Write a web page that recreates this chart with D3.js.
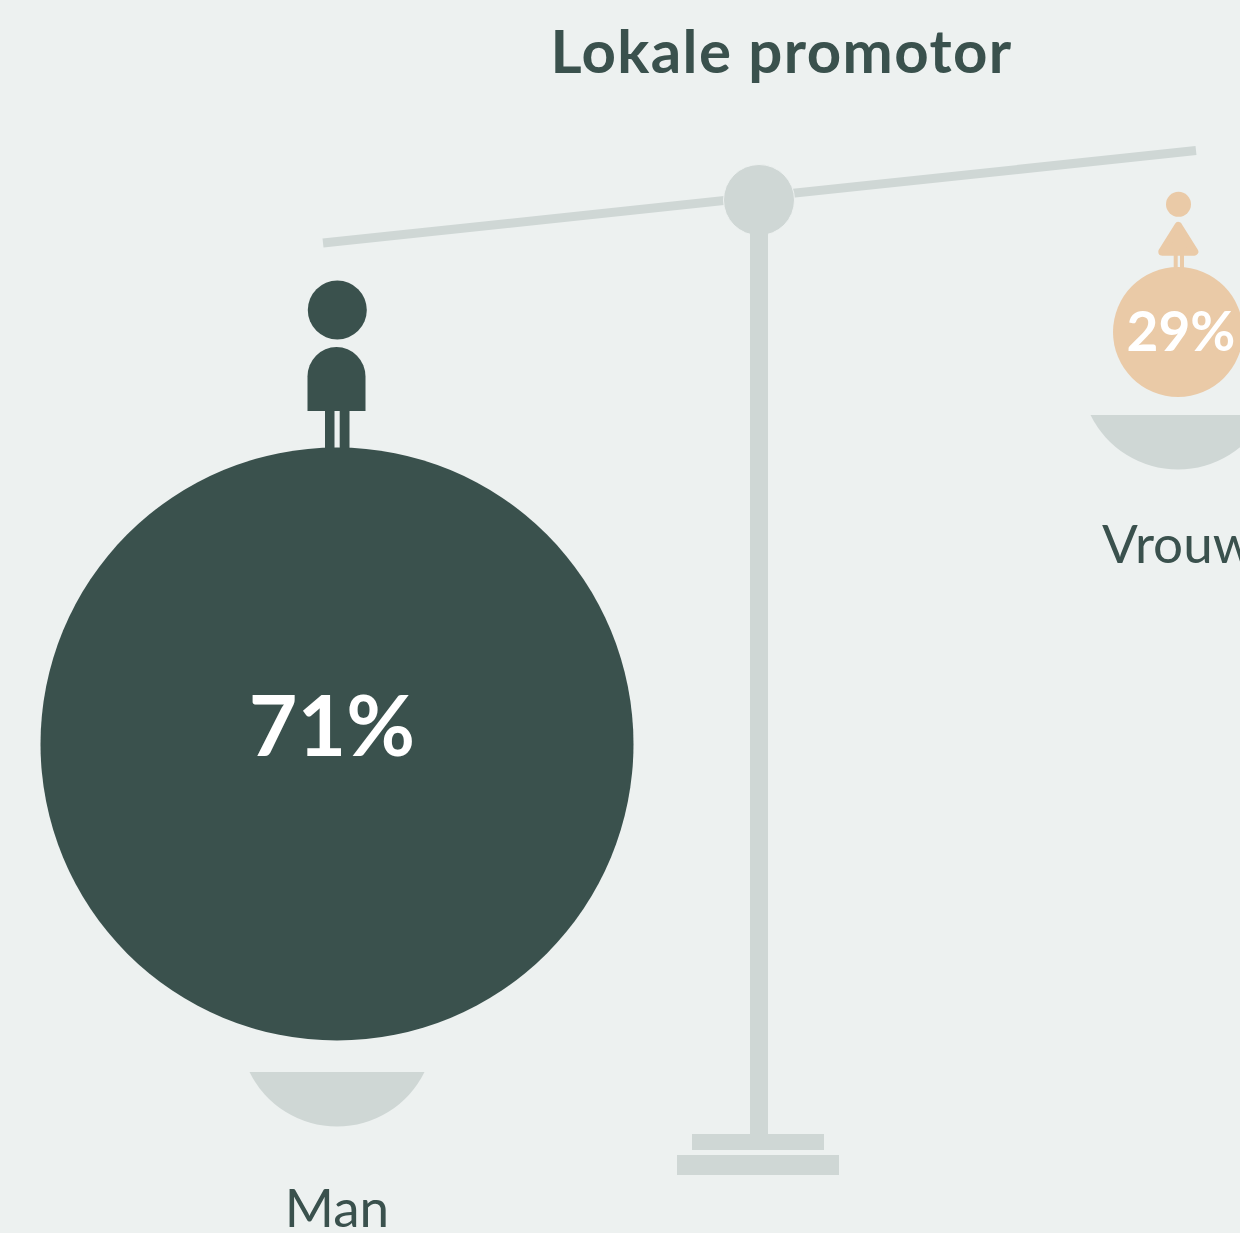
<!DOCTYPE html>
<meta charset="utf-8">
<style>
    html, body { margin: 0; background: #edf1f0; overflow: hidden; }
    text { font-family: Lato, sans-serif; }
    .title { font-size: 60px; font-weight: 700; fill: #3a514d; letter-spacing: 1.4px; text-anchor: middle; }
    .label { font-size: 53px; fill: #3a514d; }
    .value { fill: #fff; font-weight: 700; text-anchor: middle; }
</style>
<svg width="1240" height="1233"></svg>
<script src="https://d3js.org/d3.v7.min.js"></script>
<script>
    const title = "Lokale promotor";
    const categories = ["Man", "Vrouw"];
    const shares = [71, 29];
    const valueLabels = ["71%", "29%"];
    const colors = ["#3a514d", "#eacaa7"];

    const grey = "#cfd7d5";
    const bg = "#edf1f0";
    const svg = d3.select("svg");

    // bubble size follows the share, beam tilts towards the heavier side
    const radius = d3.scaleLinear().domain([29, 71]).range([65, 296.5]);
    const side = d3.scaleOrdinal().domain(categories).range([337, 1178]);
    const beamY = d3.scaleLinear().domain([337, 1178]).range([241.5, 152.5]);
    const valueSize = d3.scaleLinear().domain([29, 71]).range([55, 84]);

    const data = categories.map((c, i) => ({
        name: c,
        share: shares[i],
        label: valueLabels[i],
        color: colors[i],
        x: side(c),
        r: radius(shares[i])
    }));

    const man = data[0], woman = data[1];
    man.cy = 744;
    woman.cy = 332;

    svg.append("rect").attr("width", 1240).attr("height", 1233).attr("fill", bg);

    svg.append("text").attr("class", "title")
        .attr("x", 781.5).attr("y", 73)
        .text(title);

    // the scale itself
    const stand = svg.append("g").attr("fill", grey);
    stand.append("line")
        .attr("x1", 323).attr("y1", beamY(323))
        .attr("x2", 1196).attr("y2", beamY(1196))
        .attr("stroke", grey).attr("stroke-width", 9);
    stand.append("circle").attr("cx", 759).attr("cy", 200).attr("r", 35.5)
        .attr("stroke", bg).attr("stroke-width", 1);
    stand.append("rect").attr("x", 750).attr("y", 225).attr("width", 18).attr("height", 915);
    stand.append("rect").attr("x", 692).attr("y", 1134).attr("width", 132).attr("height", 16);
    stand.append("rect").attr("x", 677).attr("y", 1155).attr("width", 162).attr("height", 20);

    // pans: circle segments with a flat top
    function pan(cx, top) {
        const halfChord = 87.5, sag = 54.5;
        const r = (halfChord * halfChord + sag * sag) / (2 * sag);
        return `M${cx - halfChord},${top}H${cx + halfChord}A${r},${r} 0 0 1 ${cx - halfChord},${top}Z`;
    }
    svg.append("path").attr("d", pan(man.x, 1072)).attr("fill", grey);
    svg.append("path").attr("d", pan(woman.x, 415)).attr("fill", grey);

    // bubbles
    const bubble = svg.selectAll(".bubble").data(data).enter().append("g").attr("class", "bubble");
    bubble.append("circle")
        .attr("cx", d => d.x)
        .attr("cy", d => d.cy)
        .attr("r", d => d.r)
        .attr("fill", d => d.color);
    bubble.append("text").attr("class", "value")
        .attr("x", d => d.x + (d.share > 50 ? -5 : 3))
        .attr("y", d => d.share > 50 ? 756 : 351)
        .style("font-size", d => valueSize(d.share) + "px")
        .text(d => d.label);

    // male figure
    const m = svg.append("g").attr("fill", man.color);
    m.append("circle").attr("cx", 337.3).attr("cy", 310).attr("r", 29.5);
    m.append("path").attr("d", "M307.5,411V376.5A29,29.5 0 0 1 365.5,376.5V411Z");
    m.append("rect").attr("x", 325).attr("y", 411).attr("width", 9.5).attr("height", 38);
    m.append("rect").attr("x", 339.7).attr("y", 411).attr("width", 9.8).attr("height", 38);

    // female figure
    const f = svg.append("g").attr("fill", woman.color);
    f.append("circle").attr("cx", 1178.5).attr("cy", 204.3).attr("r", 12.5);
    f.append("path")
        .attr("d", "M1178.3,226L1194.3,251.7H1162.3Z")
        .attr("stroke", woman.color).attr("stroke-width", 8).attr("stroke-linejoin", "round");
    f.append("rect").attr("x", 1173.7).attr("y", 255).attr("width", 4).attr("height", 14);
    f.append("rect").attr("x", 1180).attr("y", 255).attr("width", 4).attr("height", 14);

    // category labels, Vrouw runs off the right edge like in the original
    svg.selectAll(".label").data(data).enter().append("text")
        .attr("class", "label")
        .attr("x", d => d.x)
        .attr("y", d => d.share > 50 ? 1227 : 563)
        .style("text-anchor", d => d.share > 50 ? "middle" : "start")
        .attr("dx", d => d.share > 50 ? 0 : -76)
        .text(d => d.name);
</script>
